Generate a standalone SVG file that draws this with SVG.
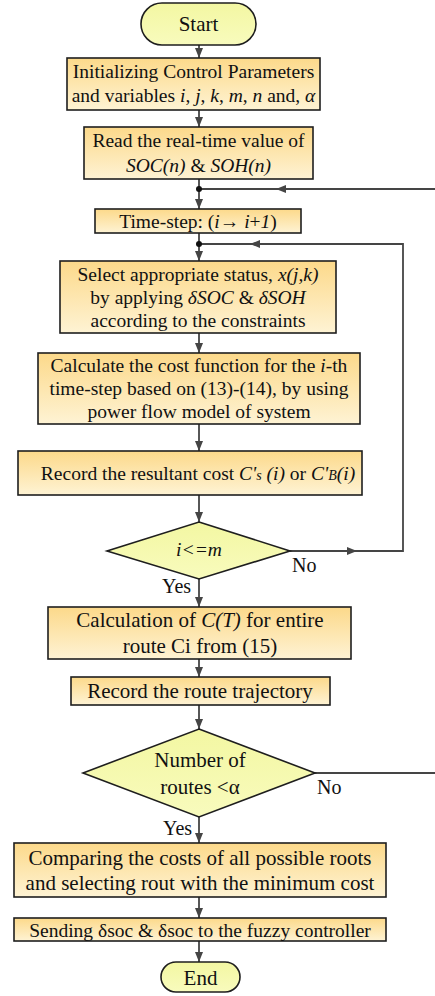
<svg xmlns="http://www.w3.org/2000/svg" width="435" height="996" viewBox="0 0 435 996">
<defs>
<linearGradient id="boxg" x1="0" y1="0" x2="0" y2="1">
<stop offset="0" stop-color="#fcd98a"/>
<stop offset="1" stop-color="#fef3d4"/>
</linearGradient>
<linearGradient id="termg" x1="0" y1="0" x2="0" y2="1">
<stop offset="0" stop-color="#f3f7a2"/>
<stop offset="1" stop-color="#f8fbbd"/>
</linearGradient>
<marker id="ah" markerUnits="userSpaceOnUse" markerWidth="10" markerHeight="10" viewBox="0 0 10 10" refX="10" refY="5" orient="auto">
<path d="M0,1 L10,5 L0,9 Z" fill="#454545"/>
</marker>
</defs>
<style>
.box{fill:url(#boxg);stroke:#1e1e1e;stroke-width:1.6}
.term{fill:url(#termg);stroke:#1e1e1e;stroke-width:1.6}
.dec{fill:url(#termg);stroke:#1e1e1e;stroke-width:1.6}
.ln{fill:none;stroke:#454545;stroke-width:1.8}
.arr{fill:none;stroke:#454545;stroke-width:1.8;marker-end:url(#ah)}
.hd{fill:#454545}
text{font-family:"Liberation Serif","Times New Roman",serif;fill:#111;text-anchor:middle}
.t{font-size:19.5px}
.b{font-size:21px}
.i{font-style:italic}
.lbl{font-size:20px;text-anchor:start}
</style>

<g id="connectors">
<line class="arr" x1="199" y1="45" x2="199" y2="58"/>
<line class="arr" x1="199" y1="110" x2="199" y2="127"/>
<line class="arr" x1="199" y1="179" x2="199" y2="209"/>
<line class="ln" x1="199" y1="189" x2="435" y2="189"/>
<path class="hd" d="M276,189 L286,185 L286,193 Z"/>
<circle cx="199" cy="189" r="3" fill="#111"/>
<line class="arr" x1="199" y1="233" x2="199" y2="261"/>
<polyline class="ln" points="199,244 403,244 403,551 290,551"/>
<path class="hd" d="M250,244 L260,240 L260,248 Z"/>
<path class="hd" d="M357,551 L347,547 L347,555 Z"/>
<circle cx="199" cy="244" r="3" fill="#111"/>
<line class="arr" x1="199" y1="333" x2="199" y2="353"/>
<line class="arr" x1="199" y1="424" x2="199" y2="451"/>
<line class="arr" x1="199" y1="495" x2="199" y2="522"/>
<line class="arr" x1="199" y1="579" x2="199" y2="607"/>
<line class="arr" x1="199" y1="659" x2="199" y2="677"/>
<line class="arr" x1="199" y1="705" x2="199" y2="729"/>
<line class="ln" x1="315" y1="773" x2="435" y2="773"/>
<line class="arr" x1="199" y1="817" x2="199" y2="843"/>
<line class="arr" x1="199" y1="897" x2="199" y2="918"/>
<line class="arr" x1="199" y1="941" x2="199" y2="962"/>
<text class="lbl" x="292" y="572">No</text>
<text class="lbl" x="162" y="593">Yes</text>
<text class="lbl" x="317" y="794">No</text>
<text class="lbl" x="163" y="835">Yes</text>
</g>

<g id="start">
<rect class="term" x="141" y="3" width="115" height="42" rx="21" ry="21"/>
<text class="b" x="198.5" y="31">Start</text>
</g>

<g id="init">
<rect class="box" x="67" y="58" width="253" height="52"/>
<text class="t" x="193.5" y="78">Initializing Control Parameters</text>
<text class="t" x="193.5" y="102">and variables <tspan class="i">i</tspan>, <tspan class="i">j</tspan>, <tspan class="i">k</tspan>, <tspan class="i">m</tspan>, <tspan class="i">n</tspan> and, <tspan class="i">α</tspan></text>
</g>

<g id="read">
<rect class="box" x="84" y="127" width="229" height="52"/>
<text class="t" x="198.5" y="147">Read the real-time value of</text>
<text class="t" x="198.5" y="172"><tspan class="i">SOC(n)</tspan> &amp; <tspan class="i">SOH(n)</tspan></text>
</g>

<g id="timestep">
<rect class="box" x="95" y="209" width="206" height="24"/>
<text class="t" x="198" y="228">Time-step: (<tspan class="i">i</tspan>→ <tspan class="i">i</tspan>+<tspan class="i">1</tspan>)</text>
</g>

<g id="select">
<rect class="box" x="60" y="261" width="276" height="72"/>
<text class="t" x="198" y="281">Select appropriate status, <tspan class="i">x(j,k)</tspan></text>
<text class="t" x="198" y="304">by applying <tspan class="i">δSOC</tspan> &amp; <tspan class="i">δSOH</tspan></text>
<text class="t" x="198" y="327">according to the constraints</text>
</g>

<g id="calccost">
<rect class="box" x="38" y="353" width="322" height="71"/>
<text class="t" x="199" y="372">Calculate the cost function for the <tspan class="i">i</tspan>-th</text>
<text class="t" x="199" y="395">time-step based on (13)-(14), by using</text>
<text class="t" x="199" y="418">power flow model of system</text>
</g>

<g id="record">
<rect class="box" x="18" y="451" width="344" height="44"/>
<text class="t" x="198" y="480">Record the resultant cost <tspan class="i">C'<tspan font-size="14">s</tspan> (i)</tspan> or <tspan class="i">C'<tspan font-size="14">B</tspan>(i)</tspan></text>
</g>

<g id="dec1">
<polygon class="dec" points="199,522 290,551 199,579 107,551"/>
<text class="t i" x="199" y="556">i&lt;=m</text>
</g>

<g id="calcroute">
<rect class="box" x="48" y="607" width="303" height="52"/>
<text class="b" x="200" y="627">Calculation of <tspan class="i">C(T)</tspan> for entire</text>
<text class="b" x="200" y="653">route Ci from (15)</text>
</g>

<g id="trajectory">
<rect class="box" x="71" y="677" width="259" height="28"/>
<text class="b" x="200" y="698">Record the route trajectory</text>
</g>

<g id="dec2">
<polygon class="dec" points="199,729 315,773 199,817 83,773"/>
<text class="b" x="200" y="767">Number of</text>
<text class="b" x="200" y="794">routes &lt;α</text>
</g>

<g id="compare">
<rect class="box" x="14" y="843" width="372" height="54"/>
<text class="b" x="200" y="865">Comparing the costs of all possible roots</text>
<text class="b" x="200" y="890">and selecting rout with the minimum cost</text>
</g>

<g id="send">
<rect class="box" x="14" y="918" width="372" height="23"/>
<text class="t" x="200" y="937">Sending δsoc &amp; δsoc to the fuzzy controller</text>
</g>

<g id="end">
<rect class="term" x="161" y="962" width="79" height="30" rx="15" ry="15"/>
<text class="b" x="200.5" y="985">End</text>
</g>
</svg>
